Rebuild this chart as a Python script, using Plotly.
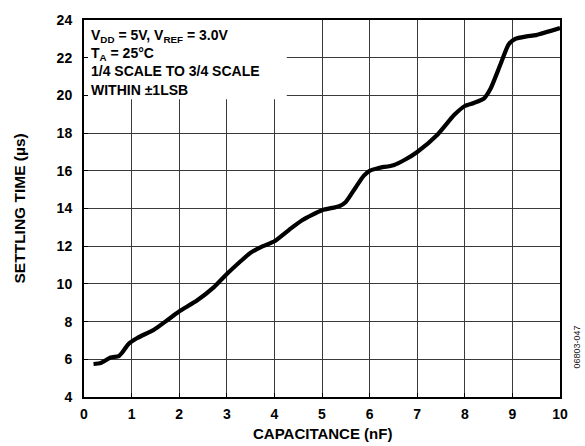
import plotly.graph_objects as go

# Settling time vs. load capacitance
capacitance_nf = [0.2, 0.35, 0.56, 0.73, 0.8, 0.94, 1.12, 1.47, 1.71, 1.99, 2.38, 2.73,
                  3.0, 3.29, 3.5, 3.76, 4.0, 4.31, 4.59, 5.0, 5.36, 5.5, 5.71, 5.88,
                  6.0, 6.19, 6.5, 6.75, 7.0, 7.43, 7.78, 8.0, 8.19, 8.4, 8.54, 8.75,
                  8.92, 9.06, 9.3, 9.5, 10.0]
settling_us = [5.75, 5.8, 6.09, 6.17, 6.35, 6.83, 7.13, 7.57, 8.0, 8.52, 9.13, 9.83,
               10.52, 11.2, 11.65, 12.0, 12.26, 12.87, 13.39, 13.91, 14.12, 14.35, 15.13, 15.74,
               16.0, 16.15, 16.3, 16.6, 17.0, 17.93, 18.97, 19.44, 19.6, 19.83, 20.35, 21.65,
               22.7, 23.0, 23.13, 23.2, 23.57]

x_ticks = list(range(0, 11))
y_ticks = list(range(4, 25, 2))

condition_lines = [
    "V<sub>DD</sub> = 5V, V<sub>REF</sub> = 3.0V",
    "T<sub>A</sub> = 25°C",
    "1/4 SCALE TO 3/4 SCALE",
    "WITHIN ±1LSB",
]

FONT = "Liberation Sans, Arial, sans-serif"


def bold(size, color="black"):
    return dict(family=FONT, size=size, color=color, weight="bold")


fig = go.Figure()
fig.add_trace(go.Scatter(
    x=capacitance_nf, y=settling_us, mode="lines",
    line=dict(color="black", width=4.2, shape="spline", smoothing=0.6),
    showlegend=False, hoverinfo="skip",
))

# white panel behind the condition text
fig.add_shape(type="rect", xref="x", yref="y", x0=0, x1=4.26, y0=19.8, y1=24,
              fillcolor="white", line=dict(width=0), layer="between")

fig.add_annotation(
    xref="paper", yref="paper", x=0.0115, y=0.988, xanchor="left", yanchor="top",
    align="left", showarrow=False, text="<br>".join(condition_lines), font=bold(14),
)

# axis titles
fig.add_annotation(
    xref="paper", yref="paper", x=0.5, y=-0.097, xanchor="center", yanchor="middle",
    showarrow=False, text="CAPACITANCE (nF)", font=bold(15),
)
fig.add_annotation(
    xref="paper", yref="paper", x=-0.1345, y=0.5, xanchor="center", yanchor="middle",
    textangle=-90, showarrow=False, text="SETTLING TIME (µs)", font=bold(15.5),
)

fig.add_annotation(
    xref="paper", yref="paper", x=1.0357, y=0.134, xanchor="center", yanchor="middle",
    textangle=-90, showarrow=False, text="06803-047",
    font=dict(family=FONT, size=9, color="#222222"),
)

axis_common = dict(
    showgrid=True, gridcolor="#3a3a3a", gridwidth=1,
    showline=True, linecolor="black", linewidth=2, mirror=True,
    ticks="inside", ticklen=4, tickcolor="black", tickwidth=1,
    zeroline=False,
    tickfont=bold(14),
)

fig.update_xaxes(range=[0, 10], tickvals=x_ticks, ticklabelstandoff=3, **axis_common)
fig.update_yaxes(range=[4, 24], tickvals=y_ticks, ticklabelstandoff=7, **axis_common)

fig.update_layout(
    width=585, height=446,
    margin=dict(l=84, r=25, t=15, b=49),
    paper_bgcolor="white", plot_bgcolor="white",
)

fig.write_html("out.html")
